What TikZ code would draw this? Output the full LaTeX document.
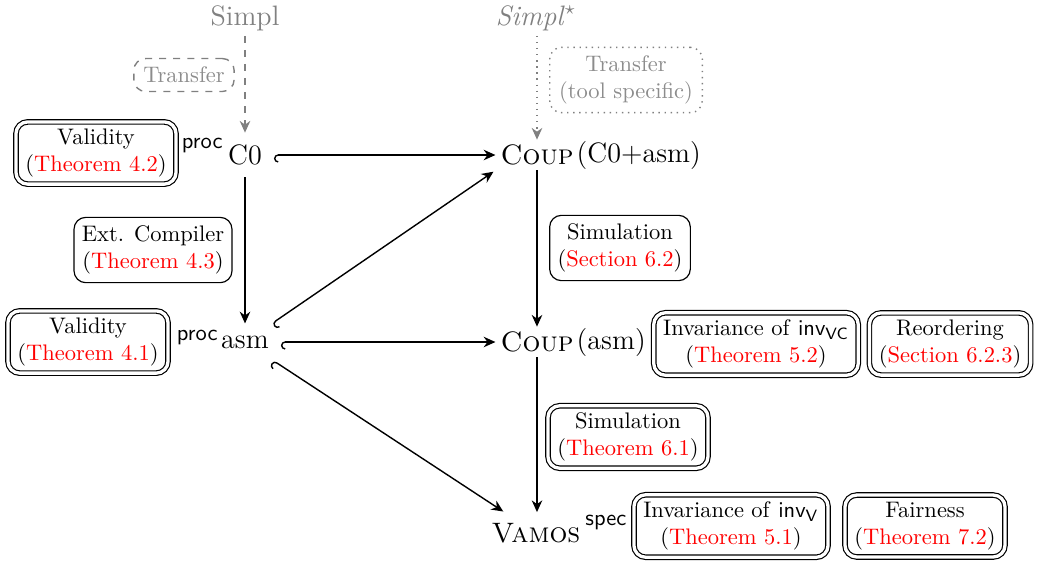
\documentclass[tikz,border=0pt]{standalone}
\usetikzlibrary{arrows.meta}
\newcommand\redref[1]{(\textcolor{red}{#1})}
\newcommand\cardfont{\fontsize{9.6}{11.5}\selectfont}
\tikzset{
  obj/.style={font=\large, inner sep=2pt},
  pobj/.style={font=\large, inner sep=5pt},
  pre/.style={font=\cardfont\sffamily, inner sep=0pt},
  card/.style={draw, rounded corners=5pt, align=center, font=\cardfont, inner xsep=3.35pt, inner ysep=3.6pt, line width=0.5pt},
  dcard/.style={card, double, double distance=1.4pt, inner xsep=4pt, inner ysep=3pt},
  src/.style={font=\large, text=gray, inner sep=2pt},
  gcard/.style={draw=gray, rounded corners=5pt, align=center, font=\cardfont, text=gray!90, line width=0.6pt, inner xsep=4pt, inner ysep=3.6pt},
  tip/.tip={Stealth[length=5pt, width=4.5pt, inset=1.6pt]},
  arr/.style={semithick, -tip},
  hookarr/.style={semithick, {Hooks[left, length=1.8pt, width=6.5pt]}-tip},
  garr/.style={gray, semithick, -tip},
}
\begin{document}
\begin{tikzpicture}[x=0.0150cm, y=-0.0150cm]
\useasboundingbox (0,0) rectangle (1037,565);

% sources
\node[src] (simpl) at (245,18) {Simpl};
\node[src] (simplstar) at (536,18) {\textit{Simpl}$^\star$};
\node[gcard, dashed] (transfer) at (184,75) {Transfer};
\node[gcard, dotted] (transfertool) at (626,80) {Transfer\\(tool specific)};

% objects of the diagram
\node[pobj] (c0) at (245,155) {C0};
\node[pre, anchor=base east] (c0proc) at (223,148) {proc};
\node[obj] (cupA) at (537,155) {\textsc{Coup}};
\node[obj, anchor=west, inner xsep=0pt] (cupAr) at ([xshift=-1pt]cupA.east) {(C0+asm)};
\node[pobj] (asm) at (245,342) {asm};
\node[pre, anchor=base east] (asmproc) at (218,340) {proc};
\node[obj] (cupB) at (537,342) {\textsc{Coup}};
\node[obj, anchor=west, inner xsep=0pt] (cupBr) at ([xshift=-1pt]cupB.east) {(asm)};
\node[obj] (vamos) at (536,533) {\textsc{Vamos}};
\node[pre, anchor=base west] (vamosspec) at (585,525) {spec};

% proof obligations
\node[dcard] (valid42) at (96,153) {Validity\\\redref{Theorem 4.2}};
\node[card] (ext) at (153,250) {Ext. Compiler\\\redref{Theorem 4.3}};
\node[dcard] (valid41) at (88,342) {Validity\\\redref{Theorem 4.1}};
\node[card] (sim62) at (620,248) {Simulation\\\redref{Section 6.2}};
\node[dcard] (inv52) at (756,344) {Invariance of \textsf{inv}$_{\mathsf{VC}}$\\\redref{Theorem 5.2}};
\node[dcard] (reord) at (950,344) {Reordering\\\redref{Section 6.2.3}};
\node[dcard] (sim61) at (628,437) {Simulation\\\redref{Theorem 6.1}};
\node[dcard] (inv51) at (731,526) {Invariance of \textsf{inv}$_{\mathsf{V}}$\\\redref{Theorem 5.1}};
\node[dcard] (fair) at (925,526) {Fairness\\\redref{Theorem 7.2}};

% connectors
\draw[garr, dashed] (simpl) -- (c0);
\draw[garr, dotted] (cupA |- simplstar.south) -- (cupA);
\draw[hookarr] (c0) -- (cupA);
\draw[arr] (c0) -- (asm);
\draw[hookarr, shorten >=1pt] (asm) -- (cupA.south west);
\draw[hookarr] (asm) -- (cupB);
\draw[arr] (cupA) -- (cupB);
\draw[hookarr, shorten >=5pt] (asm) -- (vamos);
\draw[arr, shorten >=2.5pt] (cupB) -- (cupB |- vamos.north);
\end{tikzpicture}
\end{document}
